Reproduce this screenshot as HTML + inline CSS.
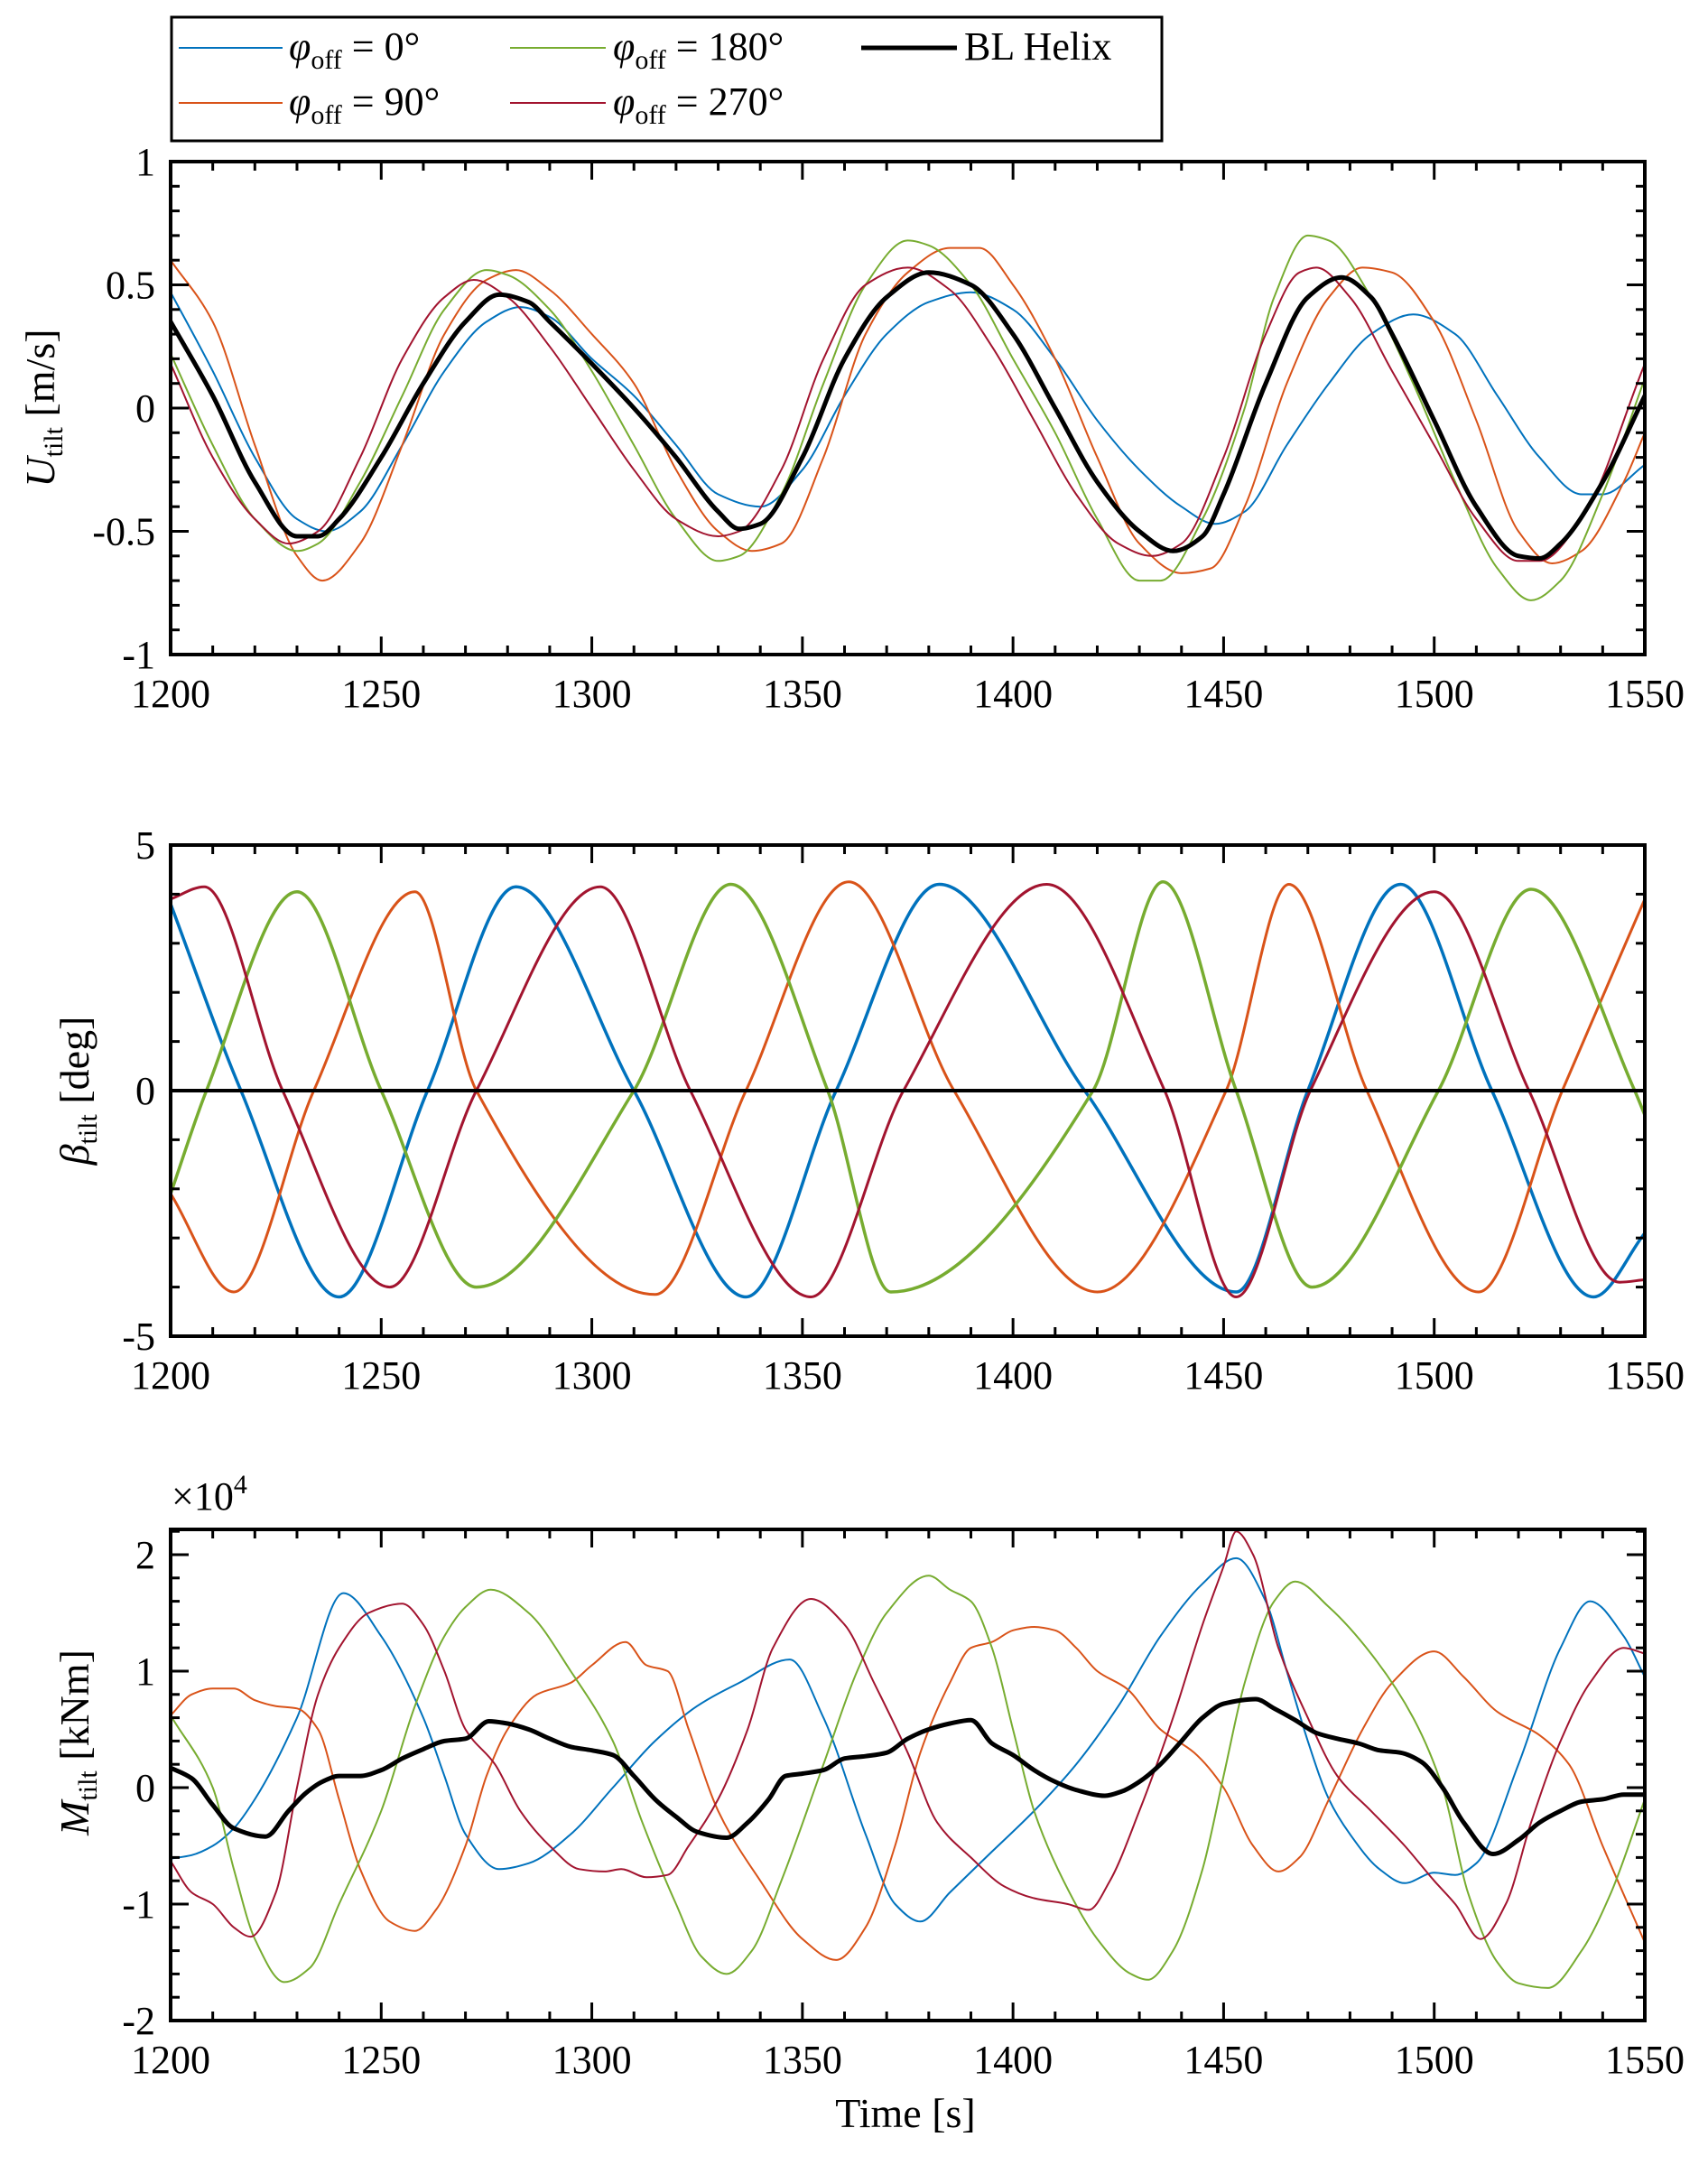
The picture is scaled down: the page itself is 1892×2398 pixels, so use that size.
<!DOCTYPE html>
<html><head><meta charset="utf-8">
<style>
html,body{margin:0;padding:0;background:#fff;}
svg{display:block;font-family:"Liberation Serif","DejaVu Serif",serif;}
</style></head>
<body>
<svg id="fig" width="1892" height="2398" viewBox="0 0 1892 2398" xmlns="http://www.w3.org/2000/svg">
<g id="legend">
  <rect x="190" y="19" width="1097" height="137" fill="#fff" stroke="#000" stroke-width="3"/>
  <g>
    <line x1="198" y1="53" x2="313" y2="53" stroke="#0072BD" stroke-width="2"/>
    <text x="320" y="66" font-size="44"><tspan font-style="italic">φ</tspan><tspan font-size="30" dy="10">off</tspan><tspan dy="-10"> = 0°</tspan></text>
  </g>
  <g>
    <line x1="565" y1="53" x2="671" y2="53" stroke="#77AC30" stroke-width="2"/>
    <text x="679" y="66" font-size="44"><tspan font-style="italic">φ</tspan><tspan font-size="30" dy="10">off</tspan><tspan dy="-10"> = 180°</tspan></text>
  </g>
  <g>
    <line x1="954" y1="53" x2="1060" y2="53" stroke="#000" stroke-width="5"/>
    <text x="1068" y="66" font-size="44">BL Helix</text>
  </g>
  <g>
    <line x1="198" y1="114" x2="313" y2="114" stroke="#D95319" stroke-width="2"/>
    <text x="320" y="127" font-size="44"><tspan font-style="italic">φ</tspan><tspan font-size="30" dy="10">off</tspan><tspan dy="-10"> = 90°</tspan></text>
  </g>
  <g>
    <line x1="565" y1="114" x2="671" y2="114" stroke="#A2142F" stroke-width="2"/>
    <text x="679" y="127" font-size="44"><tspan font-style="italic">φ</tspan><tspan font-size="30" dy="10">off</tspan><tspan dy="-10"> = 270°</tspan></text>
  </g>
</g>
</svg>
<script>
// ---------- shared ----------
const xTicks = [1200,1250,1300,1350,1400,1450,1500,1550];
const colors = {blue:"#0072BD", orange:"#D95319", green:"#77AC30", red:"#A2142F", black:"#000"};

// ---------- panel 1: U_tilt ----------
const u_black_t = [1200,1210,1220,1230,1235,1240,1250,1260,1270,1278,1285,1290,1300,1310,1320,1330,1335,1340,1350,1360,1370,1380,1390,1400,1410,1420,1430,1438,1445,1450,1460,1470,1478,1485,1490,1500,1510,1520,1525,1530,1540,1550];
const u_black_v = [0.35,0.05,-0.3,-0.52,-0.52,-0.45,-0.2,0.1,0.35,0.46,0.43,0.35,0.18,0.0,-0.2,-0.42,-0.49,-0.47,-0.2,0.2,0.45,0.55,0.5,0.3,0.0,-0.3,-0.5,-0.58,-0.52,-0.35,0.1,0.45,0.53,0.45,0.3,-0.05,-0.4,-0.6,-0.61,-0.55,-0.3,0.05];
const u_blue_t = [1200,1210,1220,1230,1237,1245,1255,1265,1275,1283,1290,1300,1310,1320,1330,1340,1350,1360,1370,1380,1390,1400,1410,1420,1430,1440,1448,1455,1465,1475,1485,1495,1505,1515,1525,1535,1540,1550];
const u_blue_v = [0.47,0.15,-0.2,-0.45,-0.5,-0.42,-0.15,0.15,0.35,0.41,0.37,0.2,0.05,-0.15,-0.35,-0.4,-0.25,0.05,0.3,0.43,0.47,0.4,0.2,-0.05,-0.25,-0.4,-0.47,-0.42,-0.15,0.1,0.3,0.38,0.3,0.05,-0.2,-0.35,-0.35,-0.23];
const u_green_t = [1200,1210,1220,1230,1235,1245,1255,1265,1275,1280,1290,1300,1310,1320,1330,1335,1345,1355,1365,1375,1380,1390,1400,1410,1420,1430,1435,1445,1455,1462,1470,1475,1485,1495,1505,1515,1523,1530,1540,1550];
const u_green_v = [0.22,-0.15,-0.45,-0.58,-0.55,-0.3,0.05,0.4,0.56,0.54,0.4,0.15,-0.15,-0.45,-0.62,-0.6,-0.35,0.1,0.5,0.68,0.66,0.5,0.2,-0.1,-0.45,-0.7,-0.7,-0.45,0.0,0.45,0.7,0.68,0.45,0.1,-0.3,-0.65,-0.78,-0.7,-0.35,0.12];
const u_orange_t = [1200,1210,1220,1230,1236,1245,1255,1265,1275,1282,1290,1300,1310,1320,1330,1338,1345,1355,1365,1375,1385,1392,1400,1410,1420,1430,1440,1447,1455,1465,1475,1483,1490,1500,1510,1520,1528,1535,1545,1550];
const u_orange_v = [0.6,0.35,-0.15,-0.6,-0.7,-0.55,-0.15,0.3,0.52,0.56,0.48,0.3,0.1,-0.25,-0.5,-0.58,-0.55,-0.2,0.3,0.55,0.65,0.65,0.5,0.2,-0.2,-0.55,-0.67,-0.65,-0.4,0.1,0.45,0.57,0.55,0.35,-0.05,-0.5,-0.63,-0.58,-0.3,-0.1];
const u_red_t = [1200,1210,1220,1228,1235,1245,1255,1265,1272,1280,1290,1300,1310,1320,1330,1335,1345,1355,1365,1375,1385,1395,1405,1415,1425,1433,1440,1450,1460,1468,1472,1480,1490,1500,1510,1520,1525,1535,1550];
const u_red_v = [0.18,-0.2,-0.45,-0.55,-0.5,-0.2,0.2,0.45,0.52,0.45,0.25,0.0,-0.25,-0.45,-0.52,-0.5,-0.25,0.2,0.5,0.57,0.48,0.25,-0.05,-0.35,-0.55,-0.6,-0.55,-0.2,0.3,0.55,0.57,0.45,0.15,-0.15,-0.45,-0.62,-0.62,-0.45,0.18];
const u_yTicks = [-1,-0.5,0,0.5,1];
const u_yLabels = ["-1","-0.5","0","0.5","1"];

// ---------- panel 2: beta_tilt ----------
const b_blue_t = [1200,1216.7,1240,1261,1282,1310,1336.6,1358,1382.5,1417,1453,1470,1492,1513.7,1537.8,1550];
const b_blue_v = [3.8,0,-4.2,0,4.15,0,-4.2,0,4.2,0,-4.1,0,4.2,0,-4.2,-2.9];
const b_green_t = [1200,1208.5,1230,1250,1272.6,1310,1333,1356,1371,1419,1435.6,1453,1471,1501,1523,1547.6,1550];
const b_green_v = [-2.1,0,4.05,0,-4.0,0,4.2,0,-4.1,0,4.25,0,-4.0,0,4.1,0,-0.5];
const b_orange_t = [1200,1215,1234,1258,1272.6,1315,1336.6,1361,1386,1420,1450.6,1465.5,1484,1510.5,1530.4,1550];
const b_orange_v = [-2.1,-4.1,0,4.05,0,-4.15,0,4.25,0,-4.1,0,4.2,0,-4.1,0,3.9];
const b_red_t = [1200,1208,1226.6,1252,1272.6,1302,1323.4,1352,1374,1408,1436,1453,1470.6,1500,1522.5,1544,1550];
const b_red_v = [3.9,4.15,0,-4.0,0,4.15,0,-4.2,0,4.2,0,-4.2,0,4.05,0,-3.9,-3.85];
const b_black_t = [1200,1550];
const b_black_v = [0,0];
const b_yTicks = [-5,0,5];
const b_yLabels = ["-5","0","5"];

// ---------- panel 3: M_tilt (x1e4 kNm) ----------
const m_black_t = [1200,1205,1210,1215,1222.5,1228,1232,1236,1240,1245,1250,1255,1260,1265,1270,1275.6,1280,1285,1290,1295,1300,1305,1310,1315,1320,1325,1332,1337,1342,1346,1350,1355,1360,1365,1370,1375,1380,1385,1390,1395,1400,1405,1410,1415,1421.8,1426,1430,1435,1440,1445,1450,1457.6,1462,1467,1472,1477,1482,1487,1492,1497,1502,1507,1514,1520,1525,1530,1535,1540,1545,1550];
const m_black_v = [0.17,0.08,-0.15,-0.35,-0.42,-0.2,-0.05,0.05,0.1,0.1,0.15,0.25,0.33,0.4,0.42,0.57,0.55,0.5,0.42,0.35,0.32,0.28,0.1,-0.1,-0.25,-0.38,-0.43,-0.3,-0.1,0.1,0.12,0.15,0.25,0.27,0.3,0.42,0.5,0.55,0.58,0.38,0.28,0.15,0.05,-0.02,-0.07,-0.03,0.05,0.2,0.4,0.6,0.72,0.76,0.68,0.58,0.47,0.42,0.38,0.32,0.3,0.22,0.0,-0.3,-0.57,-0.45,-0.3,-0.2,-0.12,-0.1,-0.06,-0.06];
const m_blue_t = [1200,1205,1210,1215,1220,1230,1241,1250,1260,1265,1270,1278,1285,1295,1305,1315,1325,1335,1347,1355,1365,1372,1378,1385,1395,1405,1415,1425,1435,1445,1453,1460,1465,1470,1475,1480,1487,1493,1500,1505,1510,1520,1530,1537,1545,1550];
const m_blue_v = [-0.61,-0.58,-0.5,-0.35,-0.1,0.6,1.67,1.3,0.6,0.1,-0.4,-0.7,-0.65,-0.4,0.0,0.4,0.7,0.9,1.1,0.6,-0.4,-1.0,-1.15,-0.9,-0.55,-0.2,0.2,0.7,1.3,1.75,1.97,1.6,1.0,0.4,-0.1,-0.4,-0.7,-0.82,-0.73,-0.75,-0.65,0.2,1.2,1.6,1.3,0.95];
const m_green_t = [1200,1210,1215,1220,1227,1233,1240,1250,1258,1265,1270,1276,1285,1295,1305,1312,1320,1326,1332,1338,1345,1355,1363,1370,1380,1385,1390,1395,1400,1405,1412,1420,1428,1432,1438,1445,1450,1455,1462,1467,1475,1485,1495,1502,1508,1515,1520,1527,1535,1542,1550];
const m_green_v = [0.62,0.0,-0.7,-1.3,-1.67,-1.55,-1.0,-0.2,0.7,1.3,1.55,1.7,1.5,1.0,0.4,-0.3,-1.0,-1.45,-1.6,-1.4,-0.8,0.2,1.0,1.5,1.82,1.7,1.6,1.2,0.5,-0.2,-0.8,-1.3,-1.6,-1.65,-1.4,-0.7,0.1,0.9,1.6,1.77,1.55,1.15,0.6,0.0,-0.9,-1.5,-1.68,-1.72,-1.4,-0.9,-0.1];
const m_orange_t = [1200,1205,1210,1215,1220,1225,1230,1235,1240,1245,1252,1258,1263,1270,1275,1280,1287,1295,1300,1308,1313,1318,1323,1330,1340,1350,1358,1365,1372,1378,1385,1390,1395,1400,1405,1410,1415,1420,1427,1435,1443,1450,1457,1463,1468,1475,1483,1490,1500,1507,1515,1525,1532,1540,1550];
const m_orange_v = [0.62,0.8,0.85,0.85,0.75,0.7,0.68,0.5,-0.1,-0.7,-1.15,-1.23,-1.05,-0.5,0.1,0.5,0.8,0.9,1.05,1.25,1.05,1.0,0.5,-0.2,-0.8,-1.3,-1.48,-1.2,-0.5,0.3,0.9,1.2,1.25,1.35,1.38,1.35,1.2,1.0,0.85,0.5,0.3,0.0,-0.5,-0.72,-0.6,-0.1,0.5,0.9,1.17,0.95,0.65,0.45,0.2,-0.5,-1.33];
const m_red_t = [1200,1205,1210,1215,1219,1225,1230,1235,1240,1247,1255,1260,1265,1270,1277,1283,1290,1297,1303,1307,1313,1318,1323,1330,1337,1343,1352,1360,1367,1375,1382,1390,1398,1405,1413,1418,1423,1430,1438,1445,1450,1453,1457,1463,1470,1477,1485,1493,1500,1505,1511,1517,1523,1530,1537,1545,1550];
const m_red_v = [-0.63,-0.9,-1.0,-1.2,-1.28,-0.9,0.0,0.8,1.2,1.5,1.58,1.4,1.0,0.5,0.2,-0.2,-0.5,-0.7,-0.72,-0.7,-0.77,-0.75,-0.5,-0.1,0.5,1.2,1.62,1.4,0.9,0.3,-0.3,-0.6,-0.85,-0.95,-1.0,-1.05,-0.8,-0.2,0.6,1.4,1.9,2.2,2.0,1.2,0.6,0.1,-0.2,-0.5,-0.8,-1.0,-1.3,-1.0,-0.3,0.4,0.9,1.2,1.15];
const m_yTicks = [-2,-1,0,1,2];
const m_yLabels = ["-2","-1","0","1","2"];

// ---------- drawing ----------
const NS = "http://www.w3.org/2000/svg";
const svg = document.getElementById("fig");
function mk(tag, attrs, parent){
  const e = document.createElementNS(NS, tag);
  for (const k in attrs) e.setAttribute(k, attrs[k]);
  (parent||svg).appendChild(e);
  return e;
}
const X0 = 189, X1 = 1822, T0 = 1200, T1 = 1550;
function xs(t){ return X0 + (t - T0) * (X1 - X0) / (T1 - T0); }

// monotone cubic (Fritsch-Carlson) path
function smoothPath(pts){
  const n = pts.length;
  const f = v => v.toFixed(1);
  if (n < 3) return "M" + pts.map(p => f(p[0])+","+f(p[1])).join("L");
  const dx = [], dy = [], m = [];
  for (let i = 0; i < n-1; i++){ dx.push(pts[i+1][0]-pts[i][0]); dy.push(pts[i+1][1]-pts[i][1]); m.push(dy[i]/dx[i]); }
  const tg = new Array(n);
  tg[0] = m[0]; tg[n-1] = m[n-2];
  for (let i = 1; i < n-1; i++){
    if (m[i-1]*m[i] <= 0) tg[i] = 0;
    else { const w1 = 2*dx[i]+dx[i-1], w2 = dx[i]+2*dx[i-1]; tg[i] = (w1+w2)/(w1/m[i-1]+w2/m[i]); }
  }
  let d = "M" + f(pts[0][0]) + "," + f(pts[0][1]);
  for (let i = 0; i < n-1; i++){
    const h = dx[i]/3;
    d += "C" + f(pts[i][0]+h)+","+f(pts[i][1]+tg[i]*h)+" "+f(pts[i+1][0]-h)+","+f(pts[i+1][1]-tg[i+1]*h)+" "+f(pts[i+1][0])+","+f(pts[i+1][1]);
  }
  return d;
}

function panel(cfg){
  const g = mk("g", {});
  
  
  const ys = v => cfg.yb + (v - cfg.ymin) * (cfg.yt - cfg.yb) / (cfg.ymax - cfg.ymin);
  const clipId = cfg.name + "-clip";
  const defs = mk("defs", {}, g);
  const cp = mk("clipPath", {id: clipId}, defs);
  mk("rect", {x: X0, y: cfg.yt, width: X1 - X0, height: cfg.yb - cfg.yt}, cp);
  const lines = mk("g", {"clip-path": "url(#" + clipId + ")"}, g);
  
  
  cfg.series.forEach(s => {
    const pts = s.t.map((t, i) => [xs(t), ys(s.v[i])]);
    const p = mk("path", {d: smoothPath(pts), fill: "none", stroke: s.color, "stroke-width": s.w, "stroke-linejoin": "round", "stroke-linecap": "round"}, lines);
    
    
  });
  const tk = mk("g", {stroke: "#000", "stroke-width": 3}, g);
  
  
  for (let t = T0; t <= T1 + 1e-6; t += 10){
    const major = (t % 50) === 0;
    const L = major ? 20 : 10, x = xs(t);
    mk("line", {x1: x, y1: cfg.yb, x2: x, y2: cfg.yb - L}, tk);
    mk("line", {x1: x, y1: cfg.yt, x2: x, y2: cfg.yt + L}, tk);
  }
  const nMinor = Math.round((cfg.ymax - cfg.ymin) / cfg.minor);
  for (let i = 0; i <= nMinor + 1; i++){
    const v = cfg.ymin + i * cfg.minor;
    if (v > cfg.ymax + 1e-6) break;
    const major = cfg.yTicks.some(mm => Math.abs(mm - v) < 1e-6);
    const L = major ? 20 : 10, y = ys(v);
    mk("line", {x1: X0, y1: y, x2: X0 + L, y2: y}, tk);
    mk("line", {x1: X1, y1: y, x2: X1 - L, y2: y}, tk);
  }
  const frame = mk("rect", {x: X0, y: cfg.yt, width: X1 - X0, height: cfg.yb - cfg.yt, fill: "none", stroke: "#000", "stroke-width": 4}, g);
  
  
  xTicks.forEach(t => {
    const tx = mk("text", {x: xs(t), y: cfg.yb + 58, "font-size": 44, "text-anchor": "middle"}, g);
    tx.textContent = String(t);
    
    
  });
  cfg.yTicks.forEach((v, i) => {
    const ty = mk("text", {x: 172, y: ys(v) + 15, "font-size": 44, "text-anchor": "end"}, g);
    ty.textContent = cfg.yLabels[i];
    
    
  });
  const yt = mk("text", {x: 0, y: 0, "font-size": 46, "text-anchor": "middle", transform: "translate(" + cfg.titleX + "," + cfg.titleY + ") rotate(-90)"}, g);
  
  
  yt.innerHTML = '<tspan font-style="italic">' + cfg.sym + '</tspan><tspan font-size="30" dy="9">tilt</tspan><tspan dy="-9"> ' + cfg.unit + '</tspan>';
  return g;
}

panel({name: "panel-u-tilt", yt: 179, yb: 725, ymin: -1, ymax: 1, minor: 0.1,
  yTicks: u_yTicks, yLabels: u_yLabels, sym: "U", unit: "[m/s]", titleX: 60, titleY: 452,
  series: [
    {name: "u-series-0deg", t: u_blue_t, v: u_blue_v, color: colors.blue, w: 2},
    {name: "u-series-90deg", t: u_orange_t, v: u_orange_v, color: colors.orange, w: 2},
    {name: "u-series-180deg", t: u_green_t, v: u_green_v, color: colors.green, w: 2},
    {name: "u-series-270deg", t: u_red_t, v: u_red_v, color: colors.red, w: 2},
    {name: "u-series-bl-helix", t: u_black_t, v: u_black_v, color: colors.black, w: 5}
  ]});
panel({name: "panel-beta-tilt", yt: 936, yb: 1480, ymin: -5, ymax: 5, minor: 1,
  yTicks: b_yTicks, yLabels: b_yLabels, sym: "β", unit: "[deg]", titleX: 98, titleY: 1208,
  series: [
    {name: "beta-series-0deg", t: b_blue_t, v: b_blue_v, color: colors.blue, w: 3.5},
    {name: "beta-series-90deg", t: b_orange_t, v: b_orange_v, color: colors.orange, w: 3},
    {name: "beta-series-180deg", t: b_green_t, v: b_green_v, color: colors.green, w: 3.5},
    {name: "beta-series-270deg", t: b_red_t, v: b_red_v, color: colors.red, w: 3},
    {name: "beta-series-bl-helix", t: b_black_t, v: b_black_v, color: colors.black, w: 4}
  ]});
panel({name: "panel-m-tilt", yt: 1694, yb: 2238, ymin: -2, ymax: 2.217, minor: 0.2,
  yTicks: m_yTicks, yLabels: m_yLabels, sym: "M", unit: "[kNm]", titleX: 98, titleY: 1930,
  series: [
    {name: "m-series-0deg", t: m_blue_t, v: m_blue_v, color: colors.blue, w: 2},
    {name: "m-series-90deg", t: m_orange_t, v: m_orange_v, color: colors.orange, w: 2},
    {name: "m-series-180deg", t: m_green_t, v: m_green_v, color: colors.green, w: 2},
    {name: "m-series-270deg", t: m_red_t, v: m_red_v, color: colors.red, w: 2},
    {name: "m-series-bl-helix", t: m_black_t, v: m_black_v, color: colors.black, w: 5}
  ]});

const ex = mk("text", {x: 190, y: 1672, "font-size": 44});


ex.innerHTML = '×10<tspan font-size="30" dy="-18">4</tspan>';

const xt = mk("text", {x: 1003, y: 2356, "font-size": 46, "text-anchor": "middle"});


xt.textContent = "Time [s]";
</script>
</body></html>
